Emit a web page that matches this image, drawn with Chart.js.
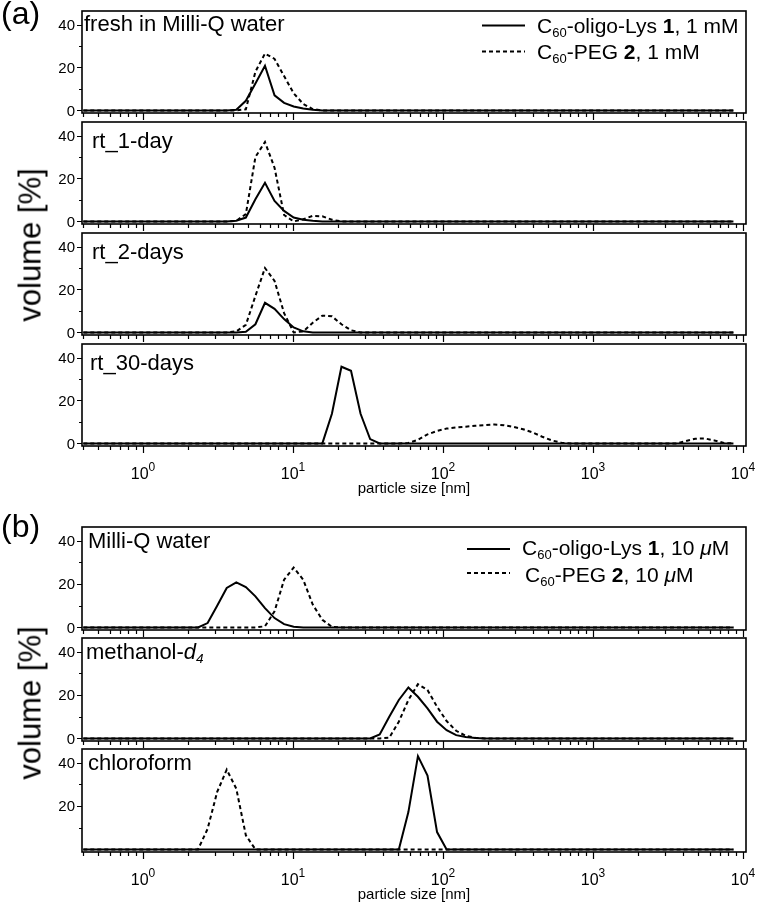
<!DOCTYPE html>
<html>
<head>
<meta charset="utf-8">
<script src="https://cdn.jsdelivr.net/npm/chart.js@4.4.1/dist/chart.umd.min.js"></script>
<style>
  html, body { margin: 0; padding: 0; background: #fff; }
  body { width: 776px; height: 903px; position: relative; overflow: hidden;
         font-family: "Liberation Sans", Arial, Helvetica, sans-serif; color: #000; }
  canvas { position: absolute; left: 0; }
  .txt { position: absolute; white-space: nowrap; line-height: 1; }
  .txt sub { font-size: 0.62em; vertical-align: baseline; position: relative; top: 0.28em; line-height: 0; }
  .ptitle { font-size: 22px; }
  .leg { font-size: 21px; }
  .tag { font-size: 32px; }
  .ytitle { font-size: 31px; transform: translate(-50%, -50%) rotate(-90deg); }
</style>
</head>
<body>
<script>
// size classes of the DLS instrument [nm]
const sizeBins = [0.4, 0.4632, 0.5365, 0.6213, 0.7195, 0.8332, 0.9649, 1.117, 1.294, 1.499, 1.736, 2.01,
  2.328, 2.696, 3.122, 3.615, 4.187, 4.849, 5.615, 6.503, 7.531, 8.721, 10.1, 11.7, 13.54, 15.69, 18.17,
  21.04, 24.36, 28.21, 32.67, 37.84, 43.82, 50.75, 58.77, 68.06, 78.82, 91.28, 105.7, 122.4, 141.8, 164.2,
  190.1, 220.2, 255.0, 295.3, 342.0, 396.1, 458.7, 531.2, 615.1, 712.4, 825.0, 955.4, 1106, 1281, 1484,
  1718, 1990, 2305, 2669, 3091, 3580, 4145, 4801, 5560, 6439, 7456, 8635];

// volume [%]  (a) 1 mM
const freshLys = [0,0,0,0,0,0,0,0,0,0,0,0,0,0,0,0,0.3,4.5,12.5,20.8,7.0,3.5,1.8,
  0.9,0.3,0,0,0,0,0,0,0,0,0,0,0,0,0,0,0,0,0,0,0,0,0,
  0,0,0,0,0,0,0,0,0,0,0,0,0,0,0,0,0,0,0,0,0,0,0];
const freshPeg = [0,0,0,0,0,0,0,0,0,0,0,0,0,0,0,0,0,0.5,18,26.5,24,16,8,
  3,0.6,0,0,0,0,0,0,0,0,0,0,0,0,0,0,0,0,0,0,0,0,0,
  0,0,0,0,0,0,0,0,0,0,0,0,0,0,0,0,0,0,0,0,0,0,0];
const day1Lys = [0,0,0,0,0,0,0,0,0,0,0,0,0,0,0,0,0.3,1.8,10.3,18,9.5,4.9,1.8,
  0.8,0.3,0,0,0,0,0,0,0,0,0,0,0,0,0,0,0,0,0,0,0,0,0,
  0,0,0,0,0,0,0,0,0,0,0,0,0,0,0,0,0,0,0,0,0,0,0];
const day1Peg = [0,0,0,0,0,0,0,0,0,0,0,0,0,0,0,0,0.3,3.4,30,37,25,3,0,
  1,2.6,2.4,0.8,0,0,0,0,0,0,0,0,0,0,0,0,0,0,0,0,0,0,0,
  0,0,0,0,0,0,0,0,0,0,0,0,0,0,0,0,0,0,0,0,0,0,0];
const day2Lys = [0,0,0,0,0,0,0,0,0,0,0,0,0,0,0,0,0,0.3,3.8,13.8,11,6.2,2.3,
  0.5,0,0,0,0,0,0,0,0,0,0,0,0,0,0,0,0,0,0,0,0,0,0,
  0,0,0,0,0,0,0,0,0,0,0,0,0,0,0,0,0,0,0,0,0,0,0];
const day2Peg = [0,0,0,0,0,0,0,0,0,0,0,0,0,0,0,0,0.5,3.5,17,30,24,9,0,
  0.5,4.5,7.8,7.5,3.8,1,0,0,0,0,0,0,0,0,0,0,0,0,0,0,0,0,0,
  0,0,0,0,0,0,0,0,0,0,0,0,0,0,0,0,0,0,0,0,0,0,0];
const day30Lys = [0,0,0,0,0,0,0,0,0,0,0,0,0,0,0,0,0,0,0,0,0,0,0,
  0,0,0,13.8,35.7,33.8,13.8,2,0,0,0,0,0,0,0,0,0,0,0,0,0,0,0,
  0,0,0,0,0,0,0,0,0,0,0,0,0,0,0,0,0,0,0,0,0,0,0];
const day30Peg = [0,0,0,0,0,0,0,0,0,0,0,0,0,0,0,0,0,0,0,0,0,0,0,
  0,0,0,0,0,0,0,0,0,0,0,0.2,1.7,4.2,5.8,6.9,7.4,7.8,8.2,8.5,8.8,8.5,7.7,
  6.6,5.1,3.1,1.4,0.3,0,0,0,0,0,0,0,0,0,0,0,0,1.1,2.2,2.3,1.4,0.2,0];

// volume [%]  (b) 10 uM
const waterLys = [0,0,0,0,0,0,0,0,0,0,0,0,0,2,10,18.2,20.8,18.6,14.3,8.9,4.3,1.5,0.3,
  0,0,0,0,0,0,0,0,0,0,0,0,0,0,0,0,0,0,0,0,0,0,0,
  0,0,0,0,0,0,0,0,0,0,0,0,0,0,0,0,0,0,0,0,0,0,0];
const waterPeg = [0,0,0,0,0,0,0,0,0,0,0,0,0,0,0,0,0,0,0,0.5,7.4,22,27.6,
  22,10.5,3.5,0.3,0,0,0,0,0,0,0,0,0,0,0,0,0,0,0,0,0,0,0,
  0,0,0,0,0,0,0,0,0,0,0,0,0,0,0,0,0,0,0,0,0,0,0];
const methLys = [0,0,0,0,0,0,0,0,0,0,0,0,0,0,0,0,0,0,0,0,0,0,0,
  0,0,0,0,0,0,0,0,1.8,10,17.7,23.5,19.2,13.8,7.7,3.8,1.5,0.6,0.2,0,0,0,0,
  0,0,0,0,0,0,0,0,0,0,0,0,0,0,0,0,0,0,0,0,0,0,0];
const methPeg = [0,0,0,0,0,0,0,0,0,0,0,0,0,0,0,0,0,0,0,0,0,0,0,
  0,0,0,0,0,0,0,0,0,0.3,7.7,17.7,25,22.3,14.6,8,3.5,1.2,0.3,0,0,0,0,
  0,0,0,0,0,0,0,0,0,0,0,0,0,0,0,0,0,0,0,0,0,0,0];
const chlorLys = [0,0,0,0,0,0,0,0,0,0,0,0,0,0,0,0,0,0,0,0,0,0,0,
  0,0,0,0,0,0,0,0,0,0,0,17.2,43,34,8,0,0,0,0,0,0,0,0,
  0,0,0,0,0,0,0,0,0,0,0,0,0,0,0,0,0,0,0,0,0,0,0];
const chlorPeg = [0,0,0,0,0,0,0,0,0,0,0,0,0,9.5,26.5,36.8,28,6.5,0,0,0,0,0,
  0,0,0,0,0,0,0,0,0,0,0,0,0,0,0,0,0,0,0,0,0,0,0,
  0,0,0,0,0,0,0,0,0,0,0,0,0,0,0,0,0,0,0,0,0,0,0];

const yTicks = [0, 10, 20, 30, 40];
const xDecades = [0, 1, 2, 3, 4];

const panels = [
  { title: 'fresh in Milli-Q water', lys: freshLys, peg: freshPeg, top: 11, h: 102, tx: 84, tb: 21 },
  { title: 'rt_1-day', lys: day1Lys, peg: day1Peg, top: 122, h: 102, tx: 92, tb: 27 },
  { title: 'rt_2-days', lys: day2Lys, peg: day2Peg, top: 233, h: 102, tx: 92, tb: 27 },
  { title: 'rt_30-days', lys: day30Lys, peg: day30Peg, top: 344, h: 102, tx: 90, tb: 27, xLabels: true },
  { title: 'Milli-Q water', lys: waterLys, peg: waterPeg, top: 527, h: 103, tx: 88, tb: 22 },
  { title: 'methanol-<i>d</i><sub><i>4</i></sub>', lys: methLys, peg: methPeg, top: 638, h: 103, tx: 86, tb: 22 },
  { title: 'chloroform', lys: chlorLys, peg: chlorPeg, top: 749, h: 103, tx: 88, tb: 22, xLabels: true, noZero: true }
];

const FONT = '"Liberation Sans", Arial, Helvetica, sans-serif';

function addText(html, cls, left, top) {
  const d = document.createElement('div');
  d.className = 'txt ' + cls;
  d.innerHTML = html;
  d.style.left = left + 'px';
  d.style.top = top + 'px';
  document.body.appendChild(d);
  return d;
}

// frame, ticks, tick labels and legend samples
const panelFrame = {
  id: 'panelFrame',
  afterDraw(chart, args, opts) {
    const { ctx, chartArea: a } = chart;
    const x = chart.scales.x, y = chart.scales.y;
    ctx.save();
    ctx.strokeStyle = '#000';
    ctx.fillStyle = '#000';
    ctx.lineWidth = 1.6;
    ctx.strokeRect(a.left, a.top, a.right - a.left, a.bottom - a.top);

    ctx.lineWidth = 1.2;
    ctx.beginPath();
    for (let e = -1; e <= 4; e++) {
      for (let m = 1; m <= 9; m++) {
        const v = m * Math.pow(10, e);
        if (v < x.min || v > x.max) continue;
        const px = Math.round(x.getPixelForValue(v)) + 0.5;
        ctx.moveTo(px, a.bottom);
        ctx.lineTo(px, a.bottom + (m === 1 ? 7 : 4));
      }
    }
    yTicks.forEach(v => {
      if (opts.noZero && v === 0) return;
      const py = Math.round(y.getPixelForValue(v)) + 0.5;
      ctx.moveTo(a.left, py);
      ctx.lineTo(a.left - (v % 20 === 0 ? 5 : 3), py);
    });
    ctx.stroke();

    ctx.font = '15px ' + FONT;
    ctx.textAlign = 'right';
    ctx.textBaseline = 'middle';
    yTicks.forEach(v => {
      if (v % 20 !== 0 || (opts.noZero && v === 0)) return;
      ctx.fillText(String(v), a.left - 7, y.getPixelForValue(v) + 1);
    });

    if (opts.xLabels) {
      ctx.textAlign = 'left';
      ctx.textBaseline = 'alphabetic';
      xDecades.forEach(e => {
        const px = x.getPixelForValue(Math.pow(10, e));
        ctx.font = '16px ' + FONT;
        const w1 = ctx.measureText('10').width;
        ctx.font = '12px ' + FONT;
        const w2 = ctx.measureText(String(e)).width;
        const x0 = px - (w1 + w2) / 2;
        ctx.font = '16px ' + FONT;
        ctx.fillText('10', x0, a.bottom + 33);
        ctx.font = '12px ' + FONT;
        ctx.fillText(String(e), x0 + w1, a.bottom + 25);
      });
      ctx.font = '15px ' + FONT;
      ctx.textAlign = 'center';
      ctx.fillText('particle size [nm]', (a.left + a.right) / 2, a.bottom + 47);
    }

    if (opts.legend) {
      const L = opts.legend;
      ctx.lineWidth = 2;
      L.rows.forEach((yy, i) => {
        ctx.setLineDash(i === 0 ? [] : [4, 3]);
        ctx.beginPath();
        ctx.moveTo(L.x0, yy - opts.canvasTop);
        ctx.lineTo(L.x1, yy - opts.canvasTop);
        ctx.stroke();
      });
    }
    ctx.restore();
  }
};

const pts = vals => sizeBins.map((s, i) => ({ x: s, y: vals[i] }));

panels.forEach((p, idx) => {
  const padTop = 12;
  const padBottom = p.xLabels ? 52 : 12;
  const cv = document.createElement('canvas');
  cv.width = 776;
  cv.height = p.h + padTop + padBottom;
  cv.style.top = (p.top - padTop) + 'px';
  document.body.appendChild(cv);

  let legend = null;
  if (idx === 0) legend = { x0: 482, x1: 525, rows: [25.5, 51.5] };
  if (idx === 4) legend = { x0: 467, x1: 510, rows: [549, 573] };

  new Chart(cv.getContext('2d'), {
    type: 'line',
    data: {
      datasets: [
        { label: 'C60-oligo-Lys 1', data: pts(p.lys), borderColor: '#000', borderWidth: 2,
          pointRadius: 0, tension: 0, fill: false },
        { label: 'C60-PEG 2', data: pts(p.peg), borderColor: '#000', borderWidth: 2,
          borderDash: [4, 3], pointRadius: 0, tension: 0, fill: false }
      ]
    },
    options: {
      responsive: false,
      animation: false,
      devicePixelRatio: 1,
      events: [],
      layout: { padding: { left: 82, right: 30, top: padTop, bottom: padBottom } },
      plugins: {
        legend: { display: false },
        tooltip: { enabled: false },
        panelFrame: { xLabels: !!p.xLabels, noZero: !!p.noZero, legend: legend, canvasTop: p.top - padTop }
      },
      scales: {
        x: { type: 'logarithmic', min: 0.392, max: 10470, display: false },
        y: { min: -1.2, max: 46.3, display: false }
      }
    },
    plugins: [panelFrame]
  });

  addText(p.title, 'ptitle', p.tx, p.top + p.tb - 18.6);
});

// group tags, axis titles, legends
addText('(a)', 'tag', 1, -3);
addText('(b)', 'tag', 1, 510);
addText('volume [%]', 'ytitle', 30, 245);
addText('volume [%]', 'ytitle', 30, 703);
addText('C<sub>60</sub>-oligo-Lys <b>1</b>, 1 mM', 'leg', 537, 15.2);
addText('C<sub>60</sub>-PEG <b>2</b>, 1 mM', 'leg', 537, 41.2);
addText('C<sub>60</sub>-oligo-Lys <b>1</b>, 10 <i>&mu;</i>M', 'leg', 522, 537.2);
addText('C<sub>60</sub>-PEG <b>2</b>, 10 <i>&mu;</i>M', 'leg', 525, 564.2);
</script>
</body>
</html>
